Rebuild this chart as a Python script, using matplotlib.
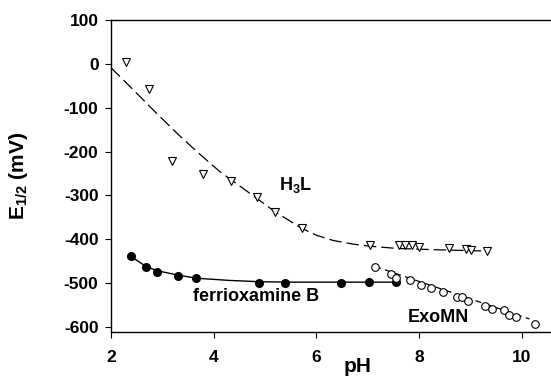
import matplotlib
matplotlib.use("Agg")
import matplotlib.pyplot as plt

plt.rcParams['font.family'] = ['Liberation Sans', 'DejaVu Sans']
plt.rcParams['font.weight'] = 'bold'
plt.rcParams['axes.unicode_minus'] = False
plt.rcParams['mathtext.fontset'] = 'custom'
plt.rcParams['mathtext.rm'] = 'Liberation Sans:bold'
plt.rcParams['mathtext.it'] = 'Liberation Sans:bold'
plt.rcParams['mathtext.bf'] = 'Liberation Sans:bold'
plt.rcParams['mathtext.default'] = 'rm'

# H3L (open triangles) and its dashed curve
h3l_ph = [2.29, 2.74, 3.19, 3.80, 4.34, 4.84, 5.19, 5.72, 7.04, 7.60, 7.73, 7.86, 8.00, 8.58, 8.92, 9.02, 9.33]
h3l_e = [5, -58, -221, -251, -267, -304, -338, -375, -414, -414, -414, -414, -417, -420, -423, -425, -428]
h3l_fit_ph = [2.0, 2.37, 2.82, 3.28, 3.67, 4.12, 4.70, 5.19, 5.71, 6.0, 6.33, 6.7, 7.04, 7.56, 8.3, 9.3]
h3l_fit_e = [-9, -52, -105, -158, -200, -246, -295, -337, -375, -391, -403, -411, -416, -421, -424, -427]

# ferrioxamine B (filled circles) and its solid curve
dfo_ph = [2.38, 2.68, 2.90, 3.31, 3.66, 4.89, 5.39, 6.47, 7.03, 7.56]
dfo_e = [-439, -464, -475, -483, -489, -499, -499, -500, -498, -498]
dfo_fit_ph = [2.38, 2.68, 2.90, 3.31, 3.66, 4.3, 4.89, 5.5, 6.5, 7.56]
dfo_fit_e = [-439, -462, -472, -482, -489, -494, -497, -498, -498, -498]

# ExoMN (open circles) and its dashed line
exo_ph = [7.14, 7.46, 7.56, 7.83, 8.04, 8.24, 8.47, 8.73, 8.84, 8.96, 9.28, 9.43, 9.65, 9.76, 9.89, 10.25]
exo_e = [-464, -479, -489, -494, -504, -511, -521, -532, -532, -540, -552, -559, -562, -572, -578, -593]
exo_fit_ph = [7.14, 10.15]
exo_fit_e = [-462, -582]

fig = plt.figure(figsize=(5.51, 3.79), dpi=100)
ax = fig.add_axes([0.2015, 0.1248, 0.7985, 0.8225])

ax.plot(h3l_fit_ph, h3l_fit_e, color='black', lw=0.9, dashes=(10, 4))
ax.plot(h3l_ph, h3l_e, 'v', ms=6, mfc='white', mec='black', mew=0.8)

ax.plot(dfo_fit_ph, dfo_fit_e, color='black', lw=1.0)
ax.plot(dfo_ph, dfo_e, 'o', ms=5.5, mfc='black', mec='black')

ax.plot(exo_fit_ph, exo_fit_e, color='black', lw=0.9, dashes=(5, 3.5))
ax.plot(exo_ph, exo_e, 'o', ms=5.5, mfc='white', mec='black', mew=0.8)

ax.text(5.6, -276, 'H$_3$L', fontsize=13, ha='center', va='center')
ax.text(4.83, -530, 'ferrioxamine B', fontsize=13, ha='center', va='center')
ax.text(8.38, -578, 'ExoMN', fontsize=13, ha='center', va='center')

ax.set_xlim(2, 10.57)
ax.set_ylim(-611, 100)
ax.set_xticks([2, 4, 6, 8, 10])
ax.set_yticks(range(-600, 101, 100))
ax.tick_params(direction='out', length=4, width=0.8, labelsize=12.5, pad=5)
for lab in ax.get_xticklabels() + ax.get_yticklabels():
    lab.set_fontweight('bold')
ax.tick_params(axis='x', pad=9)

ax.spines['right'].set_visible(False)
for s in ['left', 'bottom', 'top']:
    ax.spines[s].set_linewidth(1.0)

ax.set_xlabel('pH', fontsize=15, fontweight='bold')
ax.xaxis.set_label_coords(0.561, -0.081)
ax.set_ylabel('E$_{1/2}$ (mV)', fontsize=15, fontweight='bold')
ax.yaxis.set_label_coords(-0.184, 0.5)

fig.savefig('out.png', dpi=100)
